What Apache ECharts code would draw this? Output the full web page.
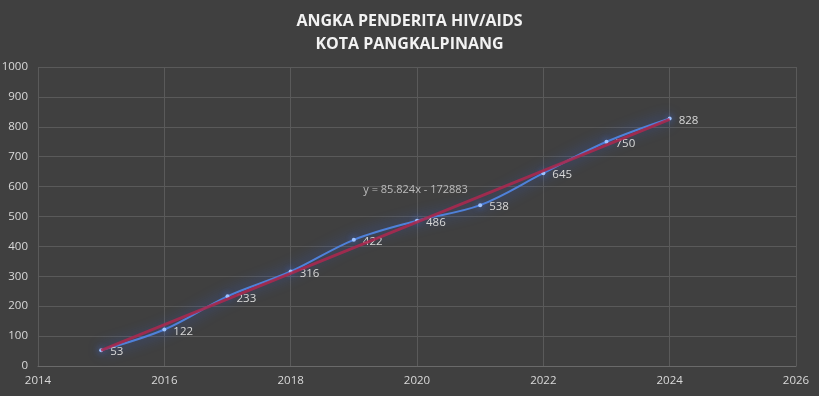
<!DOCTYPE html>
<html><head><meta charset="utf-8">
<script src="https://cdn.jsdelivr.net/npm/echarts@6/dist/echarts.min.js"></script>
<style>html,body{margin:0;padding:0;background:#404040;}#c{width:819px;height:396px;}</style>
</head><body><div id="c"></div>
<script>
var years = [2015, 2016, 2017, 2018, 2019, 2020, 2021, 2022, 2023, 2024];
var cases = [53, 122, 233, 316, 422, 486, 538, 645, 750, 828];
var trendX = [2015, 2024];
var trendY = [52.4, 824.8];
var equationText = 'y = 85.824x - 172883';
var equationPos = [2019.15, 590];
var titleLines = ['ANGKA PENDERITA HIV/AIDS', 'KOTA PANGKALPINANG'];

var chart = echarts.init(document.getElementById('c'));
var txt = '#d9d9d9';
var plain = function(v){ return String(v); };
chart.setOption({
  backgroundColor: '#404040',
  animation: false,
  title: {
    text: titleLines.join('\n'),
    left: 'center', top: 5,
    textStyle: { color: '#f2f2f2', fontFamily: 'Open Sans', fontWeight: 'bold', fontSize: 16, lineHeight: 23 }
  },
  grid: { left: 38, right: 23, top: 67, bottom: 30, containLabel: false, outerBoundsMode: 'none' },
  xAxis: {
    type: 'value', min: 2014, max: 2026, interval: 2,
    axisLine: { lineStyle: { color: '#6a6a6a' } },
    axisTick: { show: false },
    axisLabel: { color: txt, fontSize: 11.5, fontFamily: 'Open Sans', margin: 9, formatter: plain },
    splitLine: { lineStyle: { color: '#5a5a5a' } }
  },
  yAxis: {
    type: 'value', min: 0, max: 1000, interval: 100,
    axisLine: { show: false },
    axisTick: { show: false },
    axisLabel: { color: txt, fontSize: 11.5, fontFamily: 'Open Sans', margin: 10, formatter: plain },
    splitLine: { lineStyle: { color: '#5a5a5a' } }
  },
  series: [
    {
      type: 'line', smooth: 0.35,
      data: years.map(function(y, i){ return [y, cases[i]]; }),
      symbol: 'circle', symbolSize: 4,
      itemStyle: { color: '#9ec3ff', shadowBlur: 6, shadowColor: 'rgba(70,120,240,1)' },
      lineStyle: { color: '#4f81d9', width: 2, shadowBlur: 14, shadowColor: 'rgba(50,100,235,1)' },
      label: { show: true, position: 'right', distance: 7, offset: [0, 2], color: txt, fontSize: 11.5, fontFamily: 'Open Sans' },
      z: 2
    },
    {
      type: 'line',
      data: trendX.map(function(x, i){ return [x, trendY[i]]; }),
      symbol: 'none',
      lineStyle: { color: '#a8294f', width: 2.8, opacity: 0.9 },
      z: 3
    },
    {
      type: 'scatter',
      data: [equationPos],
      symbolSize: 0,
      label: { show: true, position: 'right', distance: 0, formatter: equationText, color: txt, fontSize: 11, fontFamily: 'Open Sans' },
      silent: true
    }
  ]
});
</script></body></html>
